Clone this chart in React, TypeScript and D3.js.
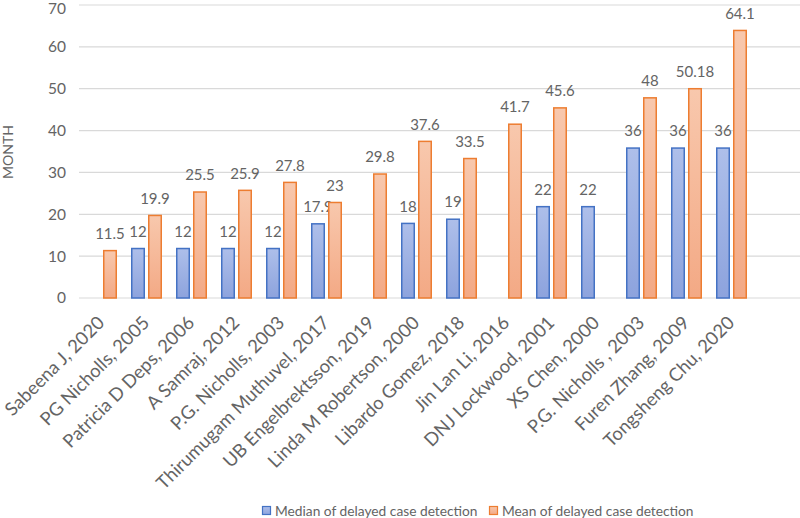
import React from "react";
import * as d3 from "d3";

const categories = [
  "Sabeena J, 2020",
  "PG Nicholls, 2005",
  "Patricia D Deps, 2006",
  "A Samraj, 2012",
  "P.G. Nicholls, 2003",
  "Thirumugam Muthuvel, 2017",
  "UB Engelbrektsson, 2019",
  "Linda M Robertson, 2000",
  "Libardo Gomez, 2018",
  "Jin Lan Li, 2016",
  "DNJ Lockwood, 2001",
  "XS Chen, 2000",
  "P.G. Nicholls , 2003",
  "Furen Zhang, 2009",
  "Tongsheng Chu, 2020",
];
const medianValues: (number | null)[] = [null, 12, 12, 12, 12, 17.9, null, 18, 19, null, 22, 22, 36, 36, 36];
const meanValues: (number | null)[] = [11.5, 19.9, 25.5, 25.9, 27.8, 23, 29.8, 37.6, 33.5, 41.7, 45.6, null, 48, 50.18, 64.1];
const yTicks = [0, 10, 20, 30, 40, 50, 60, 70];
const seriesNames = ["Median of delayed case detection", "Mean of delayed case detection"];

const FONT = "Lato, 'Open Sans', sans-serif";
const TXT = "#646464";

export default function App() {
  const W = 800, H = 518;
  const x = d3.scaleBand<string>().domain(categories).range([79, 754]).padding(0);
  const x1 = d3.scaleBand<string>().domain(["median", "mean"]).range([-15.5, 15.5]).paddingInner(3 / 17);
  const y = d3.scaleLinear().domain([0, 70]).range([298, 5]);
  const sw = 1.5;

  const series = [
    { key: "median", values: medianValues, fill: "url(#gBlue)", stroke: "#4472C4" },
    { key: "mean", values: meanValues, fill: "url(#gOrange)", stroke: "#ED7D31" },
  ];

  return (
    <svg width={W} height={H} style={{ position: "absolute", left: 0, top: 0, background: "#fff" }} fontFamily={FONT}>
      <defs>
        <linearGradient id="gBlue" x1="0" y1="0" x2="0" y2="1">
          <stop offset="0" stopColor="#AEBFEA" />
          <stop offset="1" stopColor="#8DA3DD" />
        </linearGradient>
        <linearGradient id="gOrange" x1="0" y1="0" x2="0" y2="1">
          <stop offset="0" stopColor="#F8C8AD" />
          <stop offset="1" stopColor="#F3A985" />
        </linearGradient>
      </defs>
      <rect x={0} y={0} width={W} height={H} fill="#fff" />
      {yTicks.map((t) => (
        <g key={t}>
          <line x1={79} x2={800} y1={y(t)} y2={y(t)} stroke="#D9D9D9" strokeWidth={1.2} />
          <text x={66} y={Math.max(y(t), 9)} dy="0.35em" textAnchor="end" fontSize={15.5} fill={TXT}>
            {t}
          </text>
        </g>
      ))}
      <text transform={`translate(13,152) rotate(-90)`} textAnchor="middle" fontSize={14} fill={TXT}>
        MONTH
      </text>
      {series.map((s) =>
        categories.map((c, i) => {
          const v = s.values[i];
          if (v == null) return null;
          const cx = (x(c) as number) + x.bandwidth() / 2;
          const bx = cx + (x1(s.key) as number);
          const bw = x1.bandwidth();
          return (
            <g key={s.key + i}>
              <rect
                x={bx + sw / 2}
                y={y(v) + sw / 2}
                width={bw - sw}
                height={y(0) - y(v) - sw / 2}
                fill={s.fill}
                stroke={s.stroke}
                strokeWidth={sw}
              />
              <text x={bx + bw / 2} y={y(v) - 11} textAnchor="middle" fontSize={15} fill={TXT}>
                {String(v)}
              </text>
            </g>
          );
        })
      )}
      {categories.map((c) => {
        const cx = (x(c) as number) + x.bandwidth() / 2;
        return (
          <text
            key={c}
            transform={`translate(${cx + 4},${324}) rotate(-45)`}
            textAnchor="end"
            fontSize={18.4}
            fill={TXT}
          >
            {c}
          </text>
        );
      })}
      <g>
        <rect x={262.5} y={506.5} width={8} height={8} fill="url(#gBlue)" stroke="#4472C4" strokeWidth={1.2} />
        <text x={275} y={511} dy="0.35em" fontSize={13.75} fill={TXT}>
          {seriesNames[0]}
        </text>
        <rect x={489.5} y={506.5} width={8} height={8} fill="url(#gOrange)" stroke="#ED7D31" strokeWidth={1.2} />
        <text x={502} y={511} dy="0.35em" fontSize={13.75} fill={TXT}>
          {seriesNames[1]}
        </text>
      </g>
    </svg>
  );
}
